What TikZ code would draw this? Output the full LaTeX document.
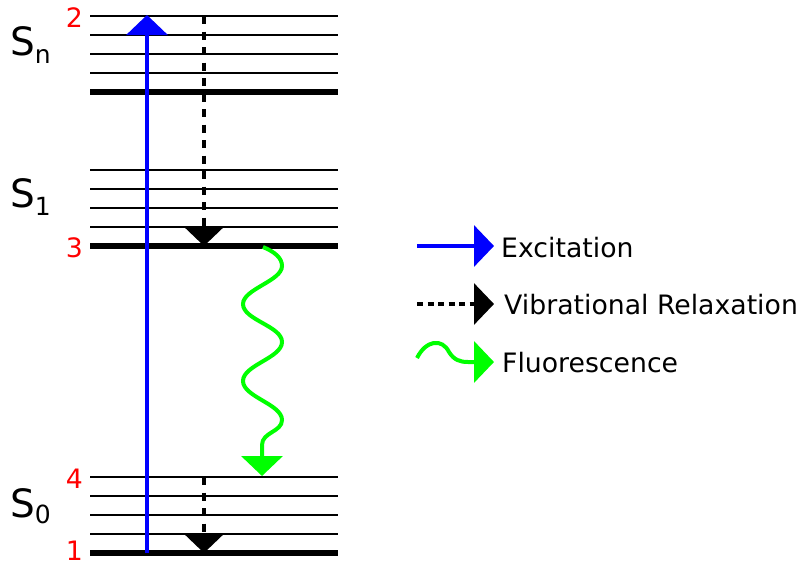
\documentclass[tikz,border=0pt]{standalone}
\usepackage{fontspec}
\setmainfont{DejaVu Sans}
\usetikzlibrary{arrows.meta}
\begin{document}
\begin{tikzpicture}[x=1pt,y=-1pt,
  level/.style={line width=2pt},
  ground/.style={line width=5.5pt},
  tipped/.style={-{Triangle[length=20pt,width=41pt]}},
  excite/.style={tipped, blue, line width=3.5pt},
  relax/.style={tipped, black, line width=3.5pt, dash pattern=on 8pt off 7.5pt},
  relaxkey/.style={tipped, black, line width=3.5pt, dash pattern=on 6pt off 4.5pt},
  fluor/.style={tipped, green, line width=4pt},
  state/.style={font=\fontsize{39}{39}\selectfont, anchor=base west, inner sep=0pt},
  sub/.style={},
  num/.style={text=red, font=\fontsize{26.7}{26.7}\selectfont, anchor=base east, inner sep=0pt},
  legtext/.style={font=\fontsize{26.7}{26.7}\selectfont, anchor=base west, inner sep=0pt}]
\useasboundingbox (0,0) rectangle (803,565);
\newcommand\statesub[2][-8pt]{\raisebox{#1}{\fontsize{25}{25}\selectfont #2}}

% vibrational levels of each electronic state
\foreach \y [count=\i] in {16,35,54,73} \draw[level] (90,\y) coordinate (Sn-\i) -- (338,\y);
\draw[ground] (90,92) coordinate (Sn-0) -- (338,92);
\foreach \y [count=\i] in {170,189,208,227} \draw[level] (90,\y) coordinate (S1-\i) -- (338,\y);
\draw[ground] (90,246) coordinate (S1-0) -- (338,246);
\foreach \y [count=\i] in {477,496,515,534} \draw[level] (90,\y) coordinate (S0-\i) -- (338,\y);
\draw[ground] (90,553) coordinate (S0-0) -- (338,553);

% state labels
\node[state] (lSn) at (10,55) {S\statesub{n}};
\node[state] (lS1) at (10,207) {S\statesub{1}};
\node[state] (lS0) at (10,517) {S\statesub[-6pt]{0}};

% step numbers
\node[num] (n2) at (83,27) {2};
\node[num] (n3) at (83,257) {3};
\node[num] (n4) at (83,488) {4};
\node[num] (n1) at (83,560) {1};

% transitions
\coordinate (exc-from) at (147,553);
\coordinate (exc-to) at (147,15);
\draw[excite] (exc-from) -- (exc-to);

\coordinate (vr1-from) at (204,16);
\coordinate (vr1-to) at (204,246);
\draw[relax] (vr1-from) -- (vr1-to);

\coordinate (vr0-from) at (204,477);
\coordinate (vr0-to) at (204,553);
\draw[relax] (vr0-from) -- (vr0-to);

\coordinate (fl-from) at (263,247);
\coordinate (fl-to) at (262,476);
\draw[fluor] (fl-from)
  .. controls (275,252) and (282,258) .. (282,266)
  .. controls (282,281) and (243,289) .. (243,304)
  .. controls (243,320) and (282,326) .. (282,342)
  .. controls (282,358) and (243,365) .. (243,381)
  .. controls (243,397) and (282,404) .. (282,420)
  .. controls (282,432) and (262,432) .. (262,445)
  -- (fl-to);

% legend
\coordinate (k1-from) at (417,246);
\coordinate (k1-to) at (494,246);
\draw[excite] (k1-from) -- (k1-to);
\node[legtext] (t1) at (501,257) {Excitation};

\coordinate (k2-from) at (417,304);
\coordinate (k2-to) at (494,304);
\draw[relaxkey] (k2-from) -- (k2-to);
\node[legtext] (t2) at (504,314) {Vibrational Relaxation};

\coordinate (k3-from) at (417,358);
\coordinate (k3-to) at (494,362);
\draw[fluor] (k3-from)
  .. controls (426,340) and (442,338) .. (449,352)
  .. controls (454,360) and (460,362) .. (468,362)
  -- (k3-to);
\node[legtext] (t3) at (502,372) {Fluorescence};
\end{tikzpicture}
\end{document}
